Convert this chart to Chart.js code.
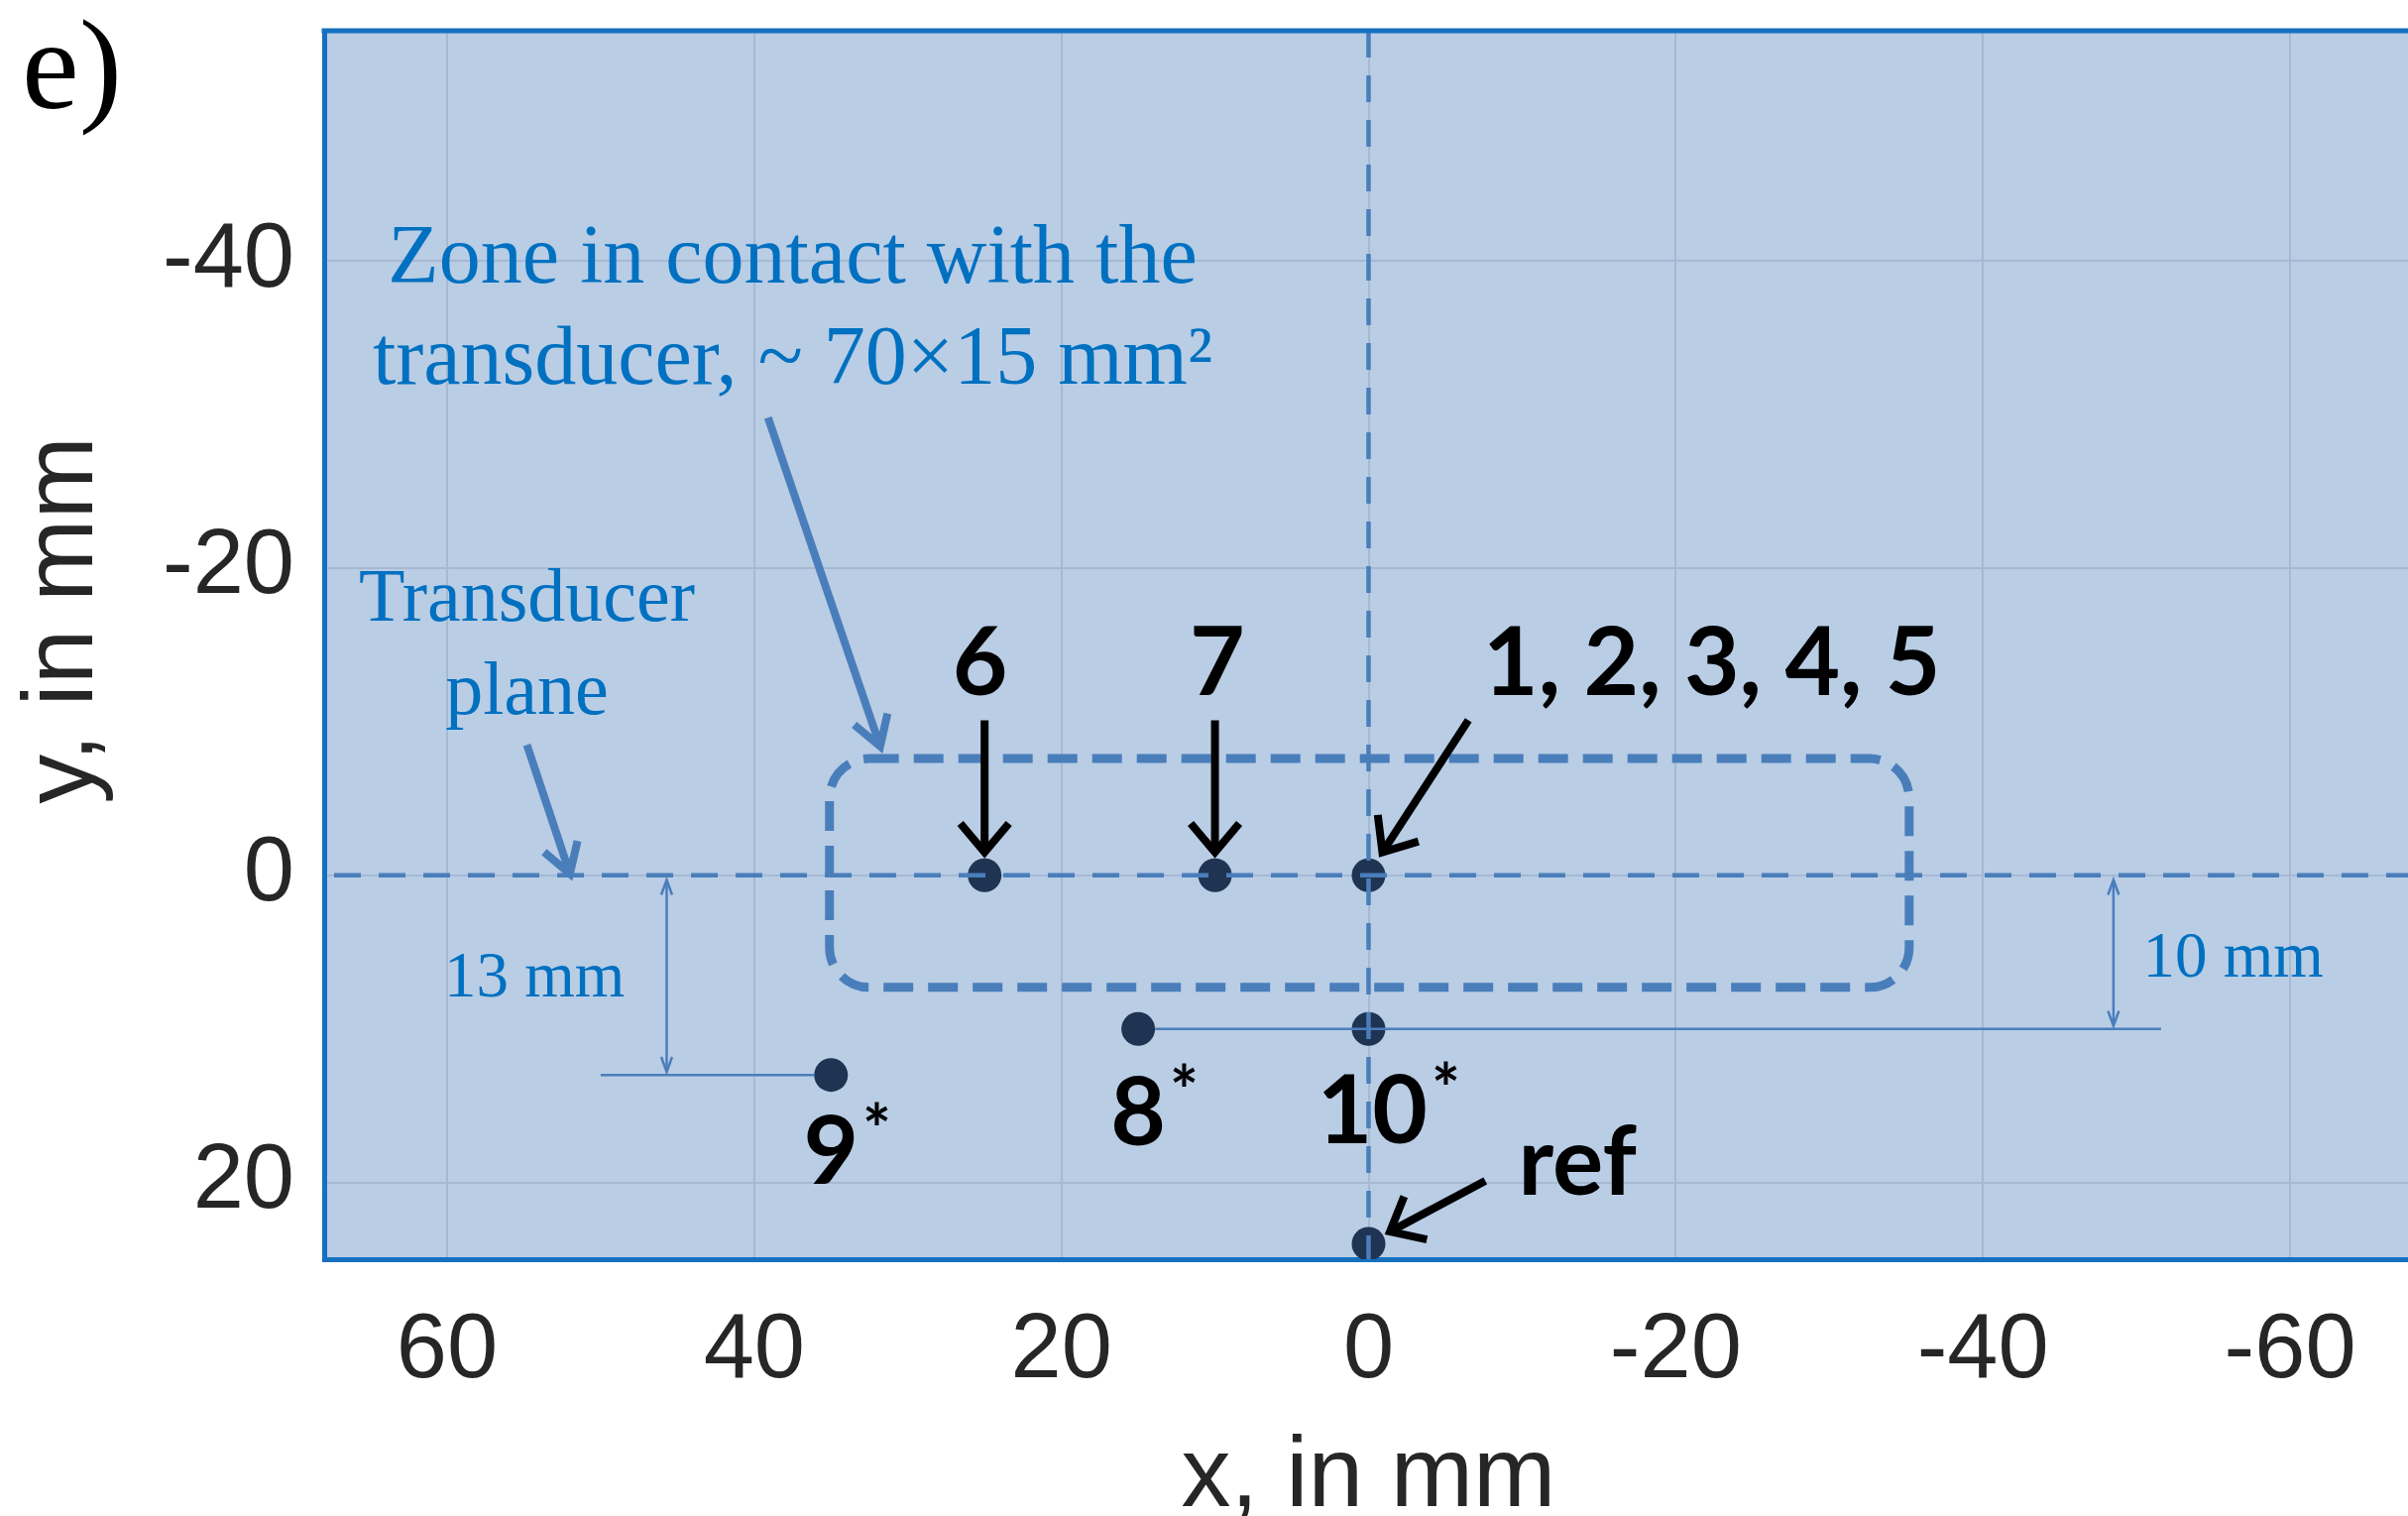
<!DOCTYPE html>
<html>
<head>
<meta charset="utf-8">
<script src="https://cdn.jsdelivr.net/npm/chart.js@4.4.1/dist/chart.umd.min.js"></script>
<style>
  html, body { margin: 0; padding: 0; overflow: hidden; background: #fff; }
  canvas { display: block; }
</style>
</head>
<body>
<canvas id="chart" width="2434" height="1529"></canvas>
<script>
// axis limits and ticks, in mm (both axes are reversed)
const xRange = [-68, 68];
const yRange = [-55, 25];
const xTicks = [60, 40, 20, 0, -20, -40, -60];
const yTicks = [-40, -20, 0, 20];

// measurement points: 1-5, 6, 7, 8*, 9*, 10*, ref
const pointX = [0, 25, 10, 15, 35, 0, 0];
const pointY = [0, 0, 0, 10, 13, 10, 24];

// point labels (centre of text, baseline)
const labelText = ['6', '7', '1, 2, 3, 4, 5', '8', '9', '10', 'ref'];
const labelX = [25.3, 9.85, -22.35, 15.0, 35.0, -0.25, -13.6];
const labelY = [-11.75, -11.75, -11.75, 17.55, 20.1, 17.45, 20.8];
const labelStar = [false, false, false, true, true, true, false];

// black arrows, label -> point
const arrowFromX = [25, 10, -6.5, -7.6];
const arrowFromY = [-10.1, -10.1, -10.1, 19.9];
const arrowToX = [25, 10, -0.9, -1.4];
const arrowToY = [-1.5, -1.5, -1.5, 23.2];

// zone in contact with the transducer (~70 x 15 mm)
const zoneX = [35.1, -35.2];
const zoneY = [-7.6, 7.3];

// thin guide lines for the dimensions
const guide13X = [50, 36.1];
const guide13Y = [13, 13];
const guide10X = [13.9, -51.6];
const guide10Y = [10, 10];

// dimension arrows
const dimX = [45.7, -48.5];
const dimFromY = [0.3, 0.3];
const dimToY = [12.8, 9.8];
const dimText = ['13 mm', '10 mm'];
const dimTextX = [54.3, -56.3];
const dimTextY = [7.9, 6.6];

// blue callouts
const noteLines = [['Zone in contact with the', 'transducer, ~ 70×15 mm²'], ['Transducer', 'plane']];
const noteX = [37.5, 54.8];
const noteY = [[-38.6, -32.0], [-16.6, -10.5]];
const noteSize = [84, 76];
const noteArrowFrom = [[39.1, -29.8], [54.8, -8.5]];
const noteArrowTo = [[31.8, -8.4], [52.0, -0.1]];

const BLUE = '#4a7ebb';
const NAVY = '#1f3452';
const TEXT_BLUE = '#0070c0';
const FRAME = '#1570c0';
const GRID = '#a6b9d2';
const AXIS_TEXT = '#262626';

function arrow(ctx, x0, y0, x1, y1, head, spread, width, color) {
    const a = Math.atan2(y1 - y0, x1 - x0);
    ctx.save();
    ctx.strokeStyle = color;
    ctx.lineWidth = width;
    ctx.lineJoin = 'miter';
    ctx.beginPath();
    ctx.moveTo(x0, y0);
    ctx.lineTo(x1 - Math.cos(a) * width * 0.6, y1 - Math.sin(a) * width * 0.6);
    ctx.stroke();
    ctx.beginPath();
    ctx.moveTo(x1 - head * Math.cos(a - spread), y1 - head * Math.sin(a - spread));
    ctx.lineTo(x1, y1);
    ctx.lineTo(x1 - head * Math.cos(a + spread), y1 - head * Math.sin(a + spread));
    ctx.stroke();
    ctx.restore();
}

const sketchPlugin = {
    id: 'sketch',
    beforeDraw(chart) {
        const { ctx, chartArea: a } = chart;
        ctx.save();
        ctx.fillStyle = '#b9cde5';
        ctx.fillRect(a.left, a.top, a.right - a.left, a.bottom - a.top);
        ctx.restore();
    },
    afterDatasetsDraw(chart) {
        const { ctx, scales: { x, y } } = chart;
        const px = v => x.getPixelForValue(v);
        const py = v => y.getPixelForValue(v);

        // Contact zone, rounded dashed rectangle
        ctx.save();
        ctx.strokeStyle = BLUE;
        ctx.lineWidth = 9;
        ctx.setLineDash([30, 15]);
        const l = Math.min(px(zoneX[0]), px(zoneX[1]));
        const r = Math.max(px(zoneX[0]), px(zoneX[1]));
        ctx.beginPath();
        ctx.roundRect(l, py(zoneY[0]), r - l, py(zoneY[1]) - py(zoneY[0]), 40);
        ctx.stroke();
        ctx.restore();

        // Dimension arrows, double headed
        dimX.forEach((d, i) => {
            const xa = px(d), ya = py(dimFromY[i]), yb = py(dimToY[i]);
            arrow(ctx, xa, (ya + yb) / 2, xa, ya, 16, 0.35, 2.5, BLUE);
            arrow(ctx, xa, (ya + yb) / 2, xa, yb, 16, 0.35, 2.5, BLUE);
            ctx.font = '65px "Liberation Serif"';
            ctx.fillStyle = TEXT_BLUE;
            ctx.textAlign = 'center';
            ctx.textBaseline = 'alphabetic';
            ctx.fillText(dimText[i], px(dimTextX[i]), py(dimTextY[i]));
        });

        // Blue callouts
        noteLines.forEach((lines, i) => {
            ctx.font = noteSize[i] + 'px "Liberation Serif"';
            ctx.fillStyle = TEXT_BLUE;
            ctx.textAlign = 'center';
            ctx.textBaseline = 'alphabetic';
            lines.forEach((t, j) => ctx.fillText(t, px(noteX[i]), py(noteY[i][j])));
            const f = noteArrowFrom[i], t = noteArrowTo[i];
            arrow(ctx, px(f[0]), py(f[1]), px(t[0]), py(t[1]), 34, 0.55, 8, BLUE);
        });

        // Black arrows to the points
        arrowFromX.forEach((v, i) => {
            arrow(ctx, px(v), py(arrowFromY[i]), px(arrowToX[i]), py(arrowToY[i]), 38, 0.7, 8, '#000');
        });

        // Point labels
        labelText.forEach((t, i) => {
            ctx.font = 'bold 96px Lato';
            ctx.fillStyle = '#000';
            ctx.textAlign = 'left';
            ctx.textBaseline = 'alphabetic';
            const w = ctx.measureText(t).width;
            const x0 = px(labelX[i]) - w / 2;
            const y0 = py(labelY[i]);
            ctx.fillText(t, x0, y0);
            if (labelStar[i]) {
                ctx.font = 'bold 68px Lato';
                ctx.fillText('*', x0 + w + 4, y0 - 30);
            }
        });
    },
    afterDraw(chart) {
        const { ctx, chartArea: a } = chart;
        ctx.save();
        ctx.strokeStyle = FRAME;
        ctx.lineWidth = 5;
        ctx.beginPath();
        ctx.moveTo(a.left - 2.5, a.top);
        ctx.lineTo(a.right, a.top);
        ctx.stroke();
        // panel letter
        ctx.font = '130px "Liberation Serif"';
        ctx.fillStyle = '#000';
        ctx.textAlign = 'left';
        ctx.textBaseline = 'alphabetic';
        ctx.fillText('e)', 22, 109);
        ctx.restore();
    }
};

new Chart(document.getElementById('chart'), {
    type: 'scatter',
    data: {
        datasets: [
            {
                label: 'Points',
                data: pointX.map((v, i) => ({ x: v, y: pointY[i] })),
                backgroundColor: NAVY,
                borderWidth: 0,
                pointRadius: 17,
                order: 3,
            },
            {
                label: 'Transducer plane',
                data: [{ x: xRange[0], y: 0 }, { x: xRange[1], y: 0 }],
                showLine: true,
                borderColor: BLUE,
                borderWidth: 4.5,
                borderDash: [27, 18],
                pointRadius: 0,
                order: 1,
            },
            {
                label: 'Centre line',
                data: [{ x: 0, y: yRange[0] }, { x: 0, y: yRange[1] }],
                showLine: true,
                borderColor: BLUE,
                borderWidth: 4.5,
                borderDash: [27, 18],
                pointRadius: 0,
                order: 1,
            },
            {
                label: 'Guide 13 mm',
                data: guide13X.map((v, i) => ({ x: v, y: guide13Y[i] })),
                showLine: true,
                borderColor: BLUE,
                borderWidth: 2.5,
                pointRadius: 0,
                order: 1,
            },
            {
                label: 'Guide 10 mm',
                data: guide10X.map((v, i) => ({ x: v, y: guide10Y[i] })),
                showLine: true,
                borderColor: BLUE,
                borderWidth: 2.5,
                pointRadius: 0,
                order: 1,
            },
        ]
    },
    options: {
        responsive: false,
        animation: false,
        devicePixelRatio: 1,
        events: [],
        layout: { autoPadding: false, padding: { top: 31, left: 0, right: 0, bottom: 0 } },
        plugins: {
            legend: { display: false },
            tooltip: { enabled: false },
        },
        scales: {
            x: {
                type: 'linear',
                reverse: true,
                min: xRange[0],
                max: xRange[1],
                afterBuildTicks: s => { s.ticks = xTicks.map(v => ({ value: v })); },
                afterFit: s => {
                    s.height = 259;
                    s.paddingLeft = 0; s.paddingRight = 0;
                    s.paddingTop = 0; s.paddingBottom = 0;
                },
                grid: { color: GRID, lineWidth: 2, drawTicks: false },
                border: { color: FRAME, width: 5 },
                ticks: {
                    padding: 38,
                    maxRotation: 0,
                    autoSkip: false,
                    color: AXIS_TEXT,
                    font: { family: '"Liberation Sans"', size: 92 },
                },
                title: {
                    display: true,
                    text: 'x, in mm',
                    color: AXIS_TEXT,
                    padding: 0,
                    font: { family: '"Liberation Sans"', size: 100, lineHeight: 0.76 },
                },
            },
            y: {
                type: 'linear',
                reverse: true,
                min: yRange[0],
                max: yRange[1],
                afterBuildTicks: s => { s.ticks = yTicks.map(v => ({ value: v })); },
                afterFit: s => {
                    s.width = 327;
                    s.paddingLeft = 0; s.paddingRight = 0;
                    s.paddingTop = 0; s.paddingBottom = 0;
                },
                grid: { color: GRID, lineWidth: 2, drawTicks: false },
                border: { color: FRAME, width: 5 },
                ticks: {
                    padding: 30,
                    autoSkip: false,
                    color: AXIS_TEXT,
                    font: { family: '"Liberation Sans"', size: 92 },
                },
                title: {
                    display: true,
                    text: '\u2002y, in mm',
                    color: AXIS_TEXT,
                    padding: { top: 5, bottom: 0 },
                    font: { family: '"Liberation Sans"', size: 100, lineHeight: 1.2 },
                },
            },
        },
    },
    plugins: [sketchPlugin],
});
</script>
</body>
</html>
